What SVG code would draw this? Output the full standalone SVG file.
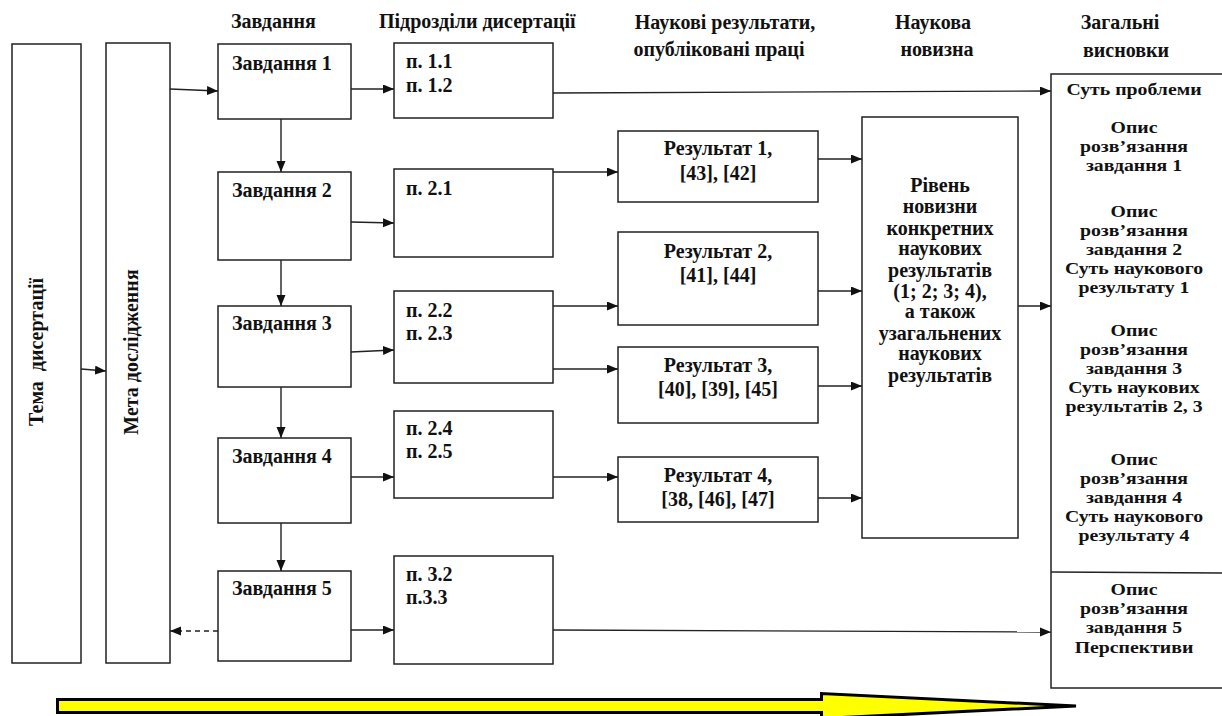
<svg xmlns="http://www.w3.org/2000/svg" width="1222" height="716" viewBox="0 0 1222 716">
<style>
.b{fill:#fff;stroke:#222;stroke-width:1.5}
.t{font-family:"Liberation Serif","Times New Roman",serif;font-weight:bold;font-size:20px;fill:#111}
.s{font-family:"Liberation Serif","Times New Roman",serif;font-weight:bold;font-size:17.5px;fill:#111;text-anchor:middle}
.m{text-anchor:middle}
.c{fill:none;stroke:#222;stroke-width:1.4;marker-end:url(#ah)}
.d{stroke-dasharray:5,4}
</style>
<defs>
<marker id="ah" markerUnits="userSpaceOnUse" markerWidth="12" markerHeight="10" refX="11" refY="4.5" orient="auto">
<path d="M0,0 L11,4.5 L0,9 z" fill="#111"/>
</marker>
</defs>
<rect width="1222" height="716" fill="#fff"/>

<g id="headers" class="t">
<text x="231" y="28">Завдання</text>
<text x="379" y="28">Підрозділи дисертації</text>
<text class="m" x="725" y="29">Наукові результати,</text>
<text class="m" x="719" y="56">опубліковані праці</text>
<text class="m" x="933" y="29">Наукова</text>
<text class="m" x="937" y="56">новизна</text>
<text class="m" x="1120" y="29">Загальні</text>
<text class="m" x="1126" y="57">висновки</text>
</g>

<g id="tema">
<rect class="b" x="12" y="44" width="69" height="619"/>
<text class="t m" xml:space="preserve" transform="translate(43,352) rotate(-90)">Тема  дисертації</text>
</g>
<g id="meta">
<rect class="b" x="106" y="43" width="64" height="620"/>
<text class="t m" transform="translate(138,352) rotate(-90)">Мета дослідження</text>
</g>

<g id="z1"><rect class="b" x="218" y="44" width="133" height="75"/><text class="t" x="232" y="70">Завдання 1</text></g>
<g id="z2"><rect class="b" x="218" y="172" width="133" height="88"/><text class="t" x="232" y="197">Завдання 2</text></g>
<g id="z3"><rect class="b" x="218" y="306" width="133" height="81"/><text class="t" x="232" y="330">Завдання 3</text></g>
<g id="z4"><rect class="b" x="218" y="438" width="133" height="85"/><text class="t" x="232" y="463">Завдання 4</text></g>
<g id="z5"><rect class="b" x="218" y="571" width="133" height="90"/><text class="t" x="232" y="595">Завдання 5</text></g>

<g id="p11"><rect class="b" x="394" y="43" width="159" height="75"/><text class="t" x="406" y="68">п. 1.1</text><text class="t" x="406" y="92">п. 1.2</text></g>
<g id="p21"><rect class="b" x="394" y="169" width="159" height="88"/><text class="t" x="406" y="195">п. 2.1</text></g>
<g id="p22"><rect class="b" x="394" y="291" width="159" height="92"/><text class="t" x="406" y="317">п. 2.2</text><text class="t" x="406" y="340">п. 2.3</text></g>
<g id="p24"><rect class="b" x="394" y="411" width="159" height="87"/><text class="t" x="406" y="435">п. 2.4</text><text class="t" x="406" y="458">п. 2.5</text></g>
<g id="p32"><rect class="b" x="394" y="556" width="159" height="108"/><text class="t" x="406" y="581">п. 3.2</text><text class="t" x="406" y="604">п.3.3</text></g>

<g id="r1"><rect class="b" x="618" y="131" width="200" height="71"/><text class="t m" x="718" y="155">Результат 1,</text><text class="t m" x="718" y="180">[43], [42]</text></g>
<g id="r2"><rect class="b" x="618" y="232" width="200" height="93"/><text class="t m" x="718" y="258">Результат 2,</text><text class="t m" x="718" y="282">[41], [44]</text></g>
<g id="r3"><rect class="b" x="618" y="347" width="200" height="76"/><text class="t m" x="718" y="372">Результат 3,</text><text class="t m" x="718" y="396">[40], [39], [45]</text></g>
<g id="r4"><rect class="b" x="618" y="457" width="200" height="65"/><text class="t m" x="718" y="482">Результат 4,</text><text class="t m" x="718" y="506">[38, [46], [47]</text></g>

<g id="novelty">
<rect class="b" x="862" y="117" width="156" height="421"/>
<g class="t m">
<text x="940" y="192">Рівень</text>
<text x="940" y="213">новизни</text>
<text x="940" y="235">конкретних</text>
<text x="940" y="255">наукових</text>
<text x="940" y="277">результатів</text>
<text x="940" y="298">(1; 2; 3; 4),</text>
<text x="940" y="318">а також</text>
<text x="940" y="340">узагальнених</text>
<text x="940" y="360">наукових</text>
<text x="940" y="382">результатів</text>
</g>
</g>

<g id="conclusions">
<rect class="b" x="1051" y="74" width="180" height="614"/>
<line x1="1051" y1="572" x2="1231" y2="573" stroke="#222" stroke-width="1.5"/>
<g transform="translate(1134 0) scale(1.13 1)">
<text class="s" x="0" y="95">Суть проблеми</text>
<text class="s" x="0" y="133">Опис</text>
<text class="s" x="0" y="152">розв’язання</text>
<text class="s" x="0" y="171">завдання 1</text>
<text class="s" x="0" y="217">Опис</text>
<text class="s" x="0" y="236">розв’язання</text>
<text class="s" x="0" y="255">завдання 2</text>
<text class="s" x="0" y="274">Суть наукового</text>
<text class="s" x="0" y="293">результату 1</text>
<text class="s" x="0" y="336">Опис</text>
<text class="s" x="0" y="355">розв’язання</text>
<text class="s" x="0" y="374">завдання 3</text>
<text class="s" x="0" y="393">Суть наукових</text>
<text class="s" x="0" y="412">результатів 2, 3</text>
<text class="s" x="0" y="465">Опис</text>
<text class="s" x="0" y="484">розв’язання</text>
<text class="s" x="0" y="503">завдання 4</text>
<text class="s" x="0" y="522">Суть наукового</text>
<text class="s" x="0" y="541">результату 4</text>
<text class="s" x="0" y="595">Опис</text>
<text class="s" x="0" y="614">розв’язання</text>
<text class="s" x="0" y="633">завдання 5</text>
<text class="s" x="0" y="653">Перспективи</text>
</g>
</g>

<g id="connectors">
<path class="c" d="M81,369 L106,371"/>
<path class="c" d="M170,89 L218,91"/>
<path class="c" d="M351,89 L394,89"/>
<path class="c" d="M553,93 L1051,91"/>
<path class="c" d="M281,119 L281,172"/>
<path class="c" d="M281,260 L281,306"/>
<path class="c" d="M281,387 L281,438"/>
<path class="c" d="M281,523 L281,571"/>
<path class="c" d="M351,222 L394,223"/>
<path class="c" d="M351,352 L394,350"/>
<path class="c" d="M351,477 L394,477"/>
<path class="c" d="M351,630 L394,630"/>
<path class="c d" d="M218,631 L170,631"/>
<path class="c" d="M553,172 L618,172"/>
<path class="c" d="M553,306 L618,306"/>
<path class="c" d="M553,369 L618,369"/>
<path class="c" d="M553,477 L618,477"/>
<path class="c" d="M818,159 L862,159"/>
<path class="c" d="M818,291 L862,291"/>
<path class="c" d="M818,386 L862,386"/>
<path class="c" d="M818,498 L862,498"/>
<path class="c" d="M1018,306 L1051,306"/>
<path class="c" d="M553,630 L1051,632"/>
</g>

<g id="flow-arrow">
<polygon points="57.5,699.5 821.5,699.5 821.5,693.5 1076,706 821.5,718.5 821.5,712.5 57.5,712.5" fill="#ffff00" stroke="#000" stroke-width="3" stroke-linejoin="miter"/>
</g>
</svg>
